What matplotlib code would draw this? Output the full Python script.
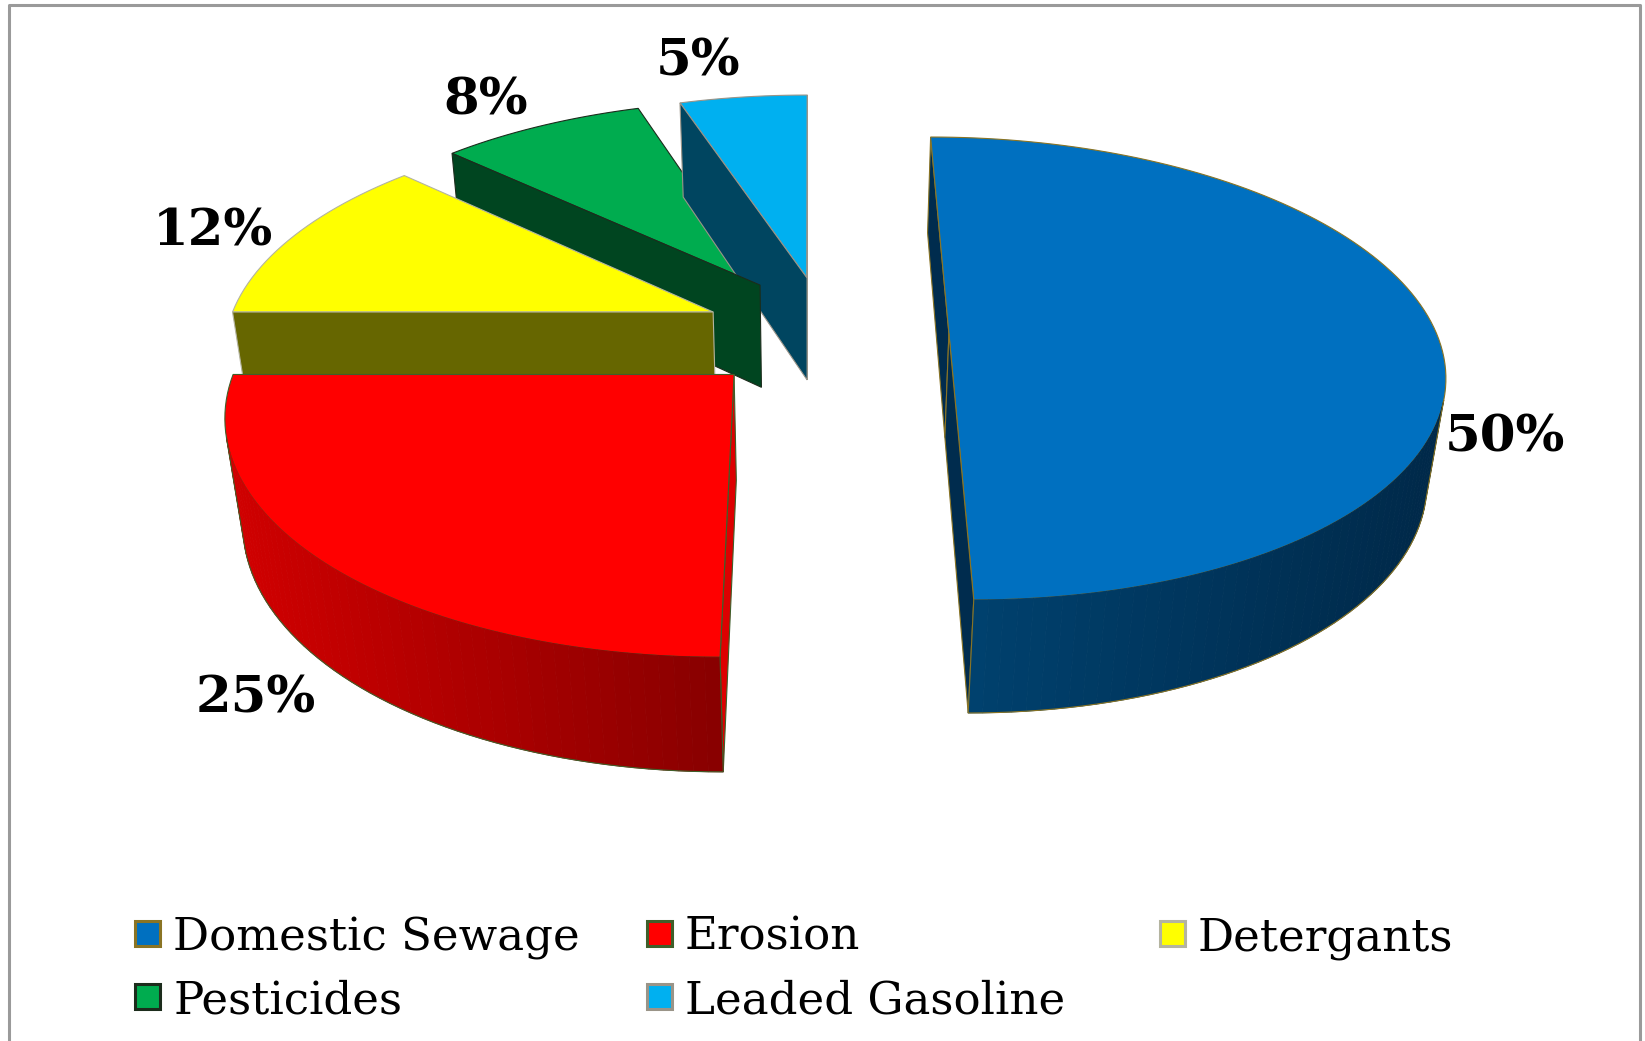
import numpy as np
import matplotlib.pyplot as plt
from matplotlib.patches import Polygon
from matplotlib.colors import to_rgb

sources = ["Domestic Sewage", "Erosion", "Detergants", "Pesticides", "Leaded Gasoline"]
shares = [50, 25, 12, 8, 5]
pct_labels = ["50%", "25%", "12%", "8%", "5%"]

top_colors = ["#0070C0", "#FF0000", "#FFFF00", "#00AC4F", "#00B0F0"]
cut_colors = ["#002C4E", "#DD0000", "#666600", "#004520", "#004560"]
wall_light = ["#00416E", "#D20000", "#666600", "#004520", "#004560"]
wall_dark = ["#002848", "#880000", "#555500", "#003818", "#003a50"]
edge_colors = ["#8a7424", "#3f5f2a", "#b4b4a0", "#1c2c1c", "#9a9488"]

# how far each slice is pulled out, and a small turn of the pull direction (deg)
explode = [0.333, 0.25, 0.254, 0.253, 0.2545]
explode_turn = [0, 0, -0.6, -3.2, -7.4]

# label anchors (pixels)
label_xy = [(1505, 438), (256, 699), (213, 232), (486, 101), (698, 62)]

# perspective camera looking down on the pie
ELEV = np.radians(32.8)
SIN_E, COS_E = np.sin(ELEV), np.cos(ELEV)
CAM_DIST = 5.547
FOCAL = 2315.6
X0, Y0 = 809.9, 333.4
X_STRETCH = 1.168
THICK = 0.3057
CAM = np.array([0.0, -CAM_DIST * COS_E, CAM_DIST * SIN_E])


def project(p):
    x, y, z = p
    d = CAM_DIST + y * COS_E - z * SIN_E
    return (X0 + FOCAL * x / d, Y0 - FOCAL * (y * SIN_E + z * COS_E) / d)


def facing(centre, normal):
    return np.dot(CAM - centre, normal) > 0


def mix(c1, c2, f):
    a, b = np.array(to_rgb(c1)), np.array(to_rgb(c2))
    return tuple(a + (b - a) * f)


fig = plt.figure(figsize=(16.45, 10.41), dpi=100)
ax = fig.add_axes([0, 0, 1, 1])
ax.set_xlim(0, 1645)
ax.set_ylim(1041, 0)
ax.axis("off")

faces = []  # (distance, [(points, face, edge, lw)], outline)
bounds = np.cumsum([0] + shares) / sum(shares) * 360.0

for i in range(len(shares)):
    a2 = np.radians(90 - bounds[i])
    a1 = np.radians(90 - bounds[i + 1])
    pull = (a1 + a2) / 2 + np.radians(explode_turn[i])
    ox, oy = explode[i] * np.cos(pull), explode[i] * np.sin(pull)

    def rim(t, z):
        return np.array([ox + X_STRETCH * np.cos(t), oy + np.sin(t), z])

    apex_t = np.array([ox, oy, 0.0])
    apex_b = np.array([ox, oy, -THICK])
    n_seg = max(6, int(np.degrees(a2 - a1) / 1.5))
    ts = np.linspace(a1, a2, n_seg + 1)

    # top face
    top3d = [apex_t] + [rim(t, 0.0) for t in ts]
    cen = np.mean(top3d, axis=0)
    faces.append((np.linalg.norm(CAM - cen),
                  [([project(p) for p in top3d], top_colors[i], edge_colors[i], 0.8)],
                  None))

    # radial cut faces
    for ang, sign in ((a1, -1), (a2, 1)):
        normal = np.array([-np.sin(ang), X_STRETCH * np.cos(ang), 0.0]) * sign
        quad = [apex_t, rim(ang, 0.0), rim(ang, -THICK), apex_b]
        cen = np.mean(quad, axis=0)
        if facing(cen, normal):
            faces.append((np.linalg.norm(CAM - cen),
                          [([project(p) for p in quad], cut_colors[i], edge_colors[i], 0.8)],
                          None))

    # curved outer wall, split into visible runs
    runs, cur = [], []
    for t0, t1 in zip(ts[:-1], ts[1:]):
        tm = (t0 + t1) / 2
        normal = np.array([np.cos(tm) / X_STRETCH, np.sin(tm), 0.0])
        if facing(rim(tm, -THICK / 2), normal):
            cur.append((t0, t1))
        elif cur:
            runs.append(cur)
            cur = []
    if cur:
        runs.append(cur)
    for run in runs:
        xs = [project(rim(t, 0.0))[0] for t, _ in run] + [project(rim(run[-1][1], 0.0))[0]]
        xmin, xmax = min(xs), max(xs)
        polys = []
        for t0, t1 in run:
            quad = [rim(t0, 0.0), rim(t1, 0.0), rim(t1, -THICK), rim(t0, -THICK)]
            pts = [project(p) for p in quad]
            xm = np.mean([p[0] for p in pts])
            f = (xm - xmin) / max(xmax - xmin, 1e-6)
            col = mix(wall_light[i], wall_dark[i], f)
            polys.append((pts, col, col, 0.6))
        tr = [t for t, _ in run] + [run[-1][1]]
        outline = ([project(rim(tr[0], 0.0))]
                   + [project(rim(t, -THICK)) for t in tr]
                   + [project(rim(tr[-1], 0.0))])
        cen = np.mean([rim(t, -THICK / 2) for t in tr], axis=0)
        faces.append((np.linalg.norm(CAM - cen), polys, (outline, edge_colors[i])))

faces.sort(key=lambda f: -f[0])
for z, (_, polys, outline) in enumerate(faces):
    for pts, fc, ec, lw in polys:
        ax.add_patch(Polygon(pts, closed=True, facecolor=fc, edgecolor=ec,
                             linewidth=lw, zorder=2 + z))
    if outline is not None:
        pts, ec = outline
        ax.plot([p[0] for p in pts], [p[1] for p in pts], color=ec,
                linewidth=0.8, zorder=2 + z)

for txt, (x, y) in zip(pct_labels, label_xy):
    ax.text(x, y, txt, ha="center", va="center", fontsize=37,
            fontweight="heavy", family="DejaVu Serif", color="black", zorder=100)

# legend laid out in three columns
leg_marker_x = [135, 647, 1160]
leg_text_x = [173, 685, 1198]
leg_baseline = [950, 1013]
for k, name in enumerate(sources):
    row, col = divmod(k, 3)
    base = leg_baseline[row]
    ax.add_patch(Polygon([(leg_marker_x[col], base - 29), (leg_marker_x[col] + 25, base - 29),
                          (leg_marker_x[col] + 25, base - 4), (leg_marker_x[col], base - 4)],
                         closed=True, facecolor=top_colors[k], edgecolor=edge_colors[k],
                         linewidth=2.2, zorder=100))
    ax.text(leg_text_x[col], base, name, ha="left", va="baseline", fontsize=32.5,
            family="DejaVu Serif", color="black", zorder=100)

# chart frame
ax.plot([9, 9, 1640, 1640], [1045, 5, 5, 1045], color="#9a9a9a", linewidth=2.2,
        zorder=101, clip_on=False)

fig.savefig("out.png", dpi=100)
